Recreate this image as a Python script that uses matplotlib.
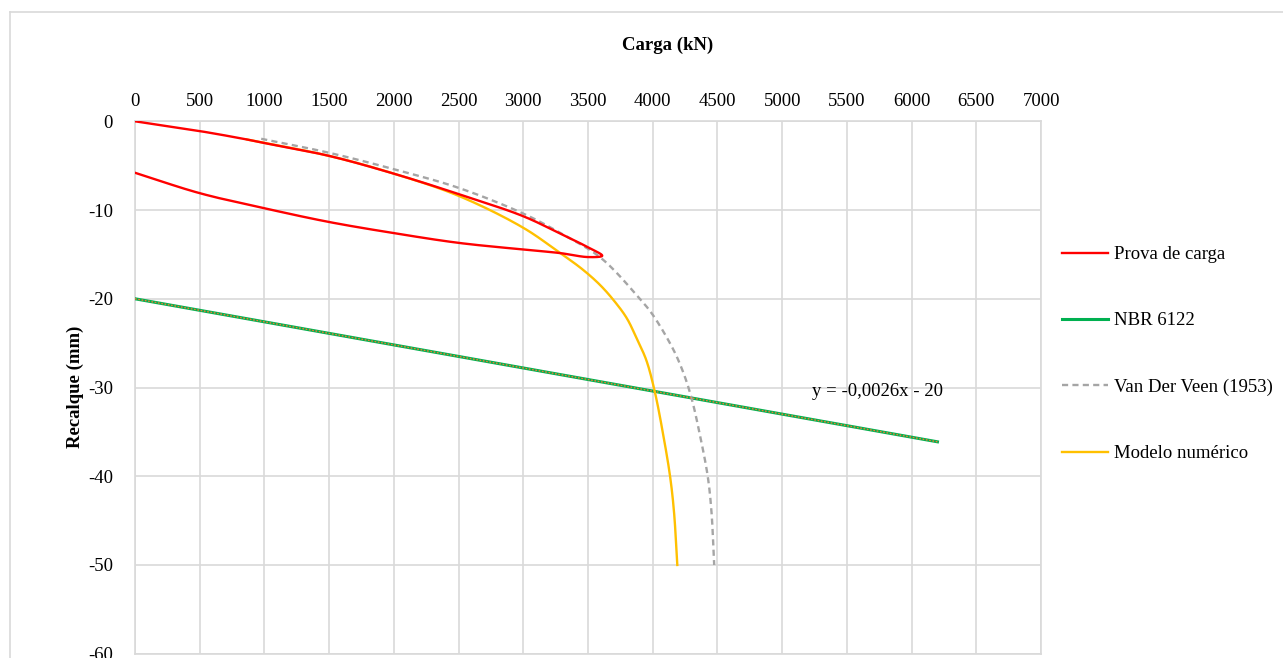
import numpy as np
import matplotlib.pyplot as plt
from matplotlib.lines import Line2D

################ Data ################

prova_x = [0, 500, 865, 1000, 1500, 2000, 2500, 3000, 3284, 3500, 3610,
           3500, 3284, 3000, 2500, 2000, 1500, 1000, 500, 0]
prova_y = [0, -1.1, -2.05, -2.45, -3.9, -5.9, -8.2, -10.7, -12.65, -14.2, -15.15,
           -15.3, -14.85, -14.45, -13.7, -12.6, -11.35, -9.8, -8.1, -5.8]

nbr_x = [0, 6200]
nbr_y = [-20, -36.12]

veen_x = [975, 1500, 2000, 2500, 3000, 3300, 3600, 3900, 4000, 4155, 4236,
          4300, 4364, 4425, 4454, 4475]
veen_y = [-1.97, -3.55, -5.4, -7.5, -10.4, -12.7, -15.4, -20.0, -21.8, -25.6, -28.3,
          -31.2, -35.3, -40.0, -44.0, -50.0]

modelo_x = [865, 1500, 2000, 2500, 3000, 3280, 3450, 3590, 3700, 3800, 3880,
            3950, 4015, 4082, 4135, 4165, 4190]
modelo_y = [-2.05, -3.9, -5.9, -8.4, -12.0, -14.8, -16.6, -18.4, -20.2, -22.2, -24.6,
            -26.9, -30.4, -35.4, -40.1, -44.1, -50.0]

x_ticks = np.arange(0, 7001, 500)
y_ticks = np.arange(-60, 1, 10)

################ Helpers ################

def smooth(xs, ys, n=30):
    # centripetal Catmull-Rom (close to Excel "smoothed line"), done in screen-like units
    sx, sy = 64.7 / 500, 8.87
    p = np.column_stack([np.asarray(xs) * sx, np.asarray(ys) * sy]).astype(float)
    p = np.vstack([2 * p[0] - p[1], p, 2 * p[-1] - p[-2]])
    out = []
    for i in range(1, len(p) - 2):
        P0, P1, P2, P3 = p[i - 1], p[i], p[i + 1], p[i + 2]
        t0 = 0.0
        t1 = t0 + max(np.linalg.norm(P1 - P0), 1e-6) ** 0.5
        t2 = t1 + max(np.linalg.norm(P2 - P1), 1e-6) ** 0.5
        t3 = t2 + max(np.linalg.norm(P3 - P2), 1e-6) ** 0.5
        t = np.linspace(t1, t2, n, endpoint=False)[:, None]
        A1 = (t1 - t) / (t1 - t0) * P0 + (t - t0) / (t1 - t0) * P1
        A2 = (t2 - t) / (t2 - t1) * P1 + (t - t1) / (t2 - t1) * P2
        A3 = (t3 - t) / (t3 - t2) * P2 + (t - t2) / (t3 - t2) * P3
        B1 = (t2 - t) / (t2 - t0) * A1 + (t - t0) / (t2 - t0) * A2
        B2 = (t3 - t) / (t3 - t1) * A2 + (t - t1) / (t3 - t1) * A3
        C = (t2 - t) / (t2 - t1) * B1 + (t - t1) / (t2 - t1) * B2
        out.append(C)
    out.append(p[-2][None, :])
    out = np.vstack(out)
    return out[:, 0] / sx, out[:, 1] / sy

################ Plot ################

plt.rcParams['font.family'] = ['Liberation Serif', 'DejaVu Serif']
plt.rcParams['axes.unicode_minus'] = False
fs = 13.5
grid_c = '#D9D9D9'

fig = plt.figure(figsize=(12.83, 6.58), dpi=100)
ax = fig.add_axes([135 / 1283, 1 - 653.7 / 658, (1041 - 135) / 1283, (653.7 - 121.3) / 658])

lw = 1.7
sx, sy = smooth(prova_x, prova_y)
ax.plot(sx, sy, color='#FF0000', lw=lw, label='Prova de carga', zorder=5)
ax.plot(nbr_x, nbr_y, color='#00B050', lw=2.2, label='NBR 6122', zorder=3)
ax.plot(nbr_x, nbr_y, color='#ED7D31', lw=1.0, ls=(0, (1.2, 1.2)), zorder=4)
sx, sy = smooth(veen_x, veen_y)
ax.plot(sx, sy, color='#A5A5A5', lw=lw, ls=(0, (2.6, 1.8)), label='Van Der Veen (1953)', zorder=3)
sx, sy = smooth(modelo_x, modelo_y)
ax.plot(sx, sy, color='#FFC000', lw=lw, label='Modelo numérico', zorder=4)

ax.set_xlim(0, 7000)
ax.set_ylim(-60, 0)
ax.set_xticks(x_ticks)
ax.set_yticks(y_ticks)
ax.xaxis.tick_top()
ax.tick_params(axis='both', length=0, labelsize=fs)
ax.tick_params(axis='x', pad=8)
ax.tick_params(axis='y', pad=16)
ax.grid(True, color=grid_c, lw=1.2)
for s in ax.spines.values():
    s.set_color(grid_c)
    s.set_linewidth(1.2)

ax.text(5734, -30.5, 'y = -0,0026x - 20', fontsize=fs, ha='center', va='center')

fig.text(668 / 1283, 1 - 45 / 658, 'Carga (kN)', fontsize=fs, fontweight='bold',
         ha='center', va='center')
fig.text(75 / 1283, 1 - 387 / 658, 'Recalque (mm)', fontsize=fs, fontweight='bold',
         ha='center', va='center', rotation=90)

ax.legend(loc='upper left', bbox_to_anchor=(1062 / 1283, 1 - 246 / 658),
          bbox_transform=fig.transFigure, frameon=False, fontsize=fs,
          handlelength=2.45, handletextpad=0.3, labelspacing=2.62,
          borderpad=0, borderaxespad=0)

# outer chart border
fig.add_artist(Line2D([10 / 1283, 10 / 1283], [0, 1 - 12 / 658], color=grid_c, lw=1.2))
fig.add_artist(Line2D([10 / 1283, 1], [1 - 12 / 658, 1 - 12 / 658], color=grid_c, lw=1.2))

fig.savefig('out.png', dpi=100)
